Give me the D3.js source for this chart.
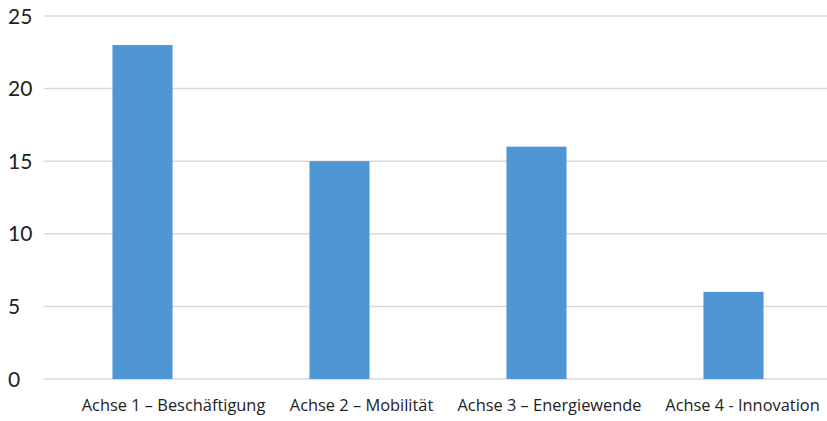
<!DOCTYPE html>
<html>
<head>
<meta charset="utf-8">
<script src="https://cdn.jsdelivr.net/npm/d3@7"></script>
<style>
  body { margin: 0; background: #fff; }
  svg { display: block; }
</style>
</head>
<body>
<svg id="chart"></svg>
<script>
const categories = ["Achse 1 – Beschäftigung", "Achse 2 – Mobilität", "Achse 3 – Energiewende", "Achse 4 - Innovation"];
const values = [23, 15, 16, 6];
const yTicks = [0, 5, 10, 15, 20, 25];
// small horizontal nudge of each category label, as in the original
const labelShift = [31, 22, 13, 9];

const width = 827, height = 421;
const margin = {top: 16, right: -5, bottom: 42, left: 44};

const svg = d3.select("#chart")
  .attr("width", width)
  .attr("height", height);

const x = d3.scaleBand()
  .domain(categories)
  .range([margin.left, width - margin.right])
  .paddingInner(0.695)
  .paddingOuter(0.3475);

const y = d3.scaleLinear()
  .domain([0, 25])
  .range([height - margin.bottom, margin.top]);

// gridlines
svg.append("g")
  .selectAll("line")
  .data(yTicks)
  .join("line")
  .attr("x1", margin.left)
  .attr("x2", width)
  .attr("y1", d => y(d))
  .attr("y2", d => y(d))
  .attr("stroke", "#d9d9d9")
  .attr("stroke-width", 1.5);

// y tick labels
svg.append("g")
  .selectAll("text")
  .data(yTicks)
  .join("text")
  .attr("x", 8)
  .attr("y", d => y(d))
  .attr("dy", "0.36em")
  .attr("font-family", "Lato, sans-serif")
  .attr("font-size", 21)
  .attr("fill", "#222")
  .text(d => d);

// bars
svg.append("g")
  .selectAll("rect")
  .data(values)
  .join("rect")
  .attr("x", (d, i) => x(categories[i]))
  .attr("y", d => y(d))
  .attr("width", x.bandwidth())
  .attr("height", d => y(0) - y(d))
  .attr("fill", "#4f96d4");

// category labels
svg.append("g")
  .selectAll("text")
  .data(categories)
  .join("text")
  .attr("x", (d, i) => x(d) + x.bandwidth() / 2 + labelShift[i])
  .attr("y", 411)
  .attr("text-anchor", "middle")
  .attr("font-family", "'Open Sans', sans-serif")
  .attr("font-size", 16.4)
  .attr("fill", "#222")
  .text(d => d);
</script>
</body>
</html>
